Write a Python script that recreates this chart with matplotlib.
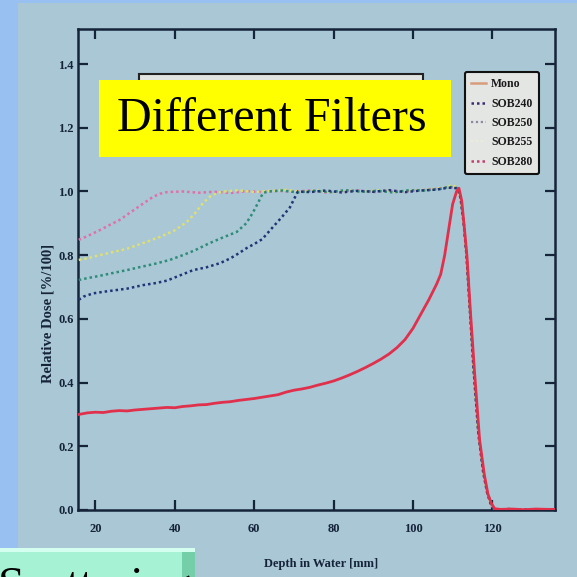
import matplotlib
matplotlib.use("Agg")
import matplotlib.pyplot as plt
from matplotlib.patches import Rectangle
from matplotlib.lines import Line2D

# ---------------- data ----------------
x_ticks = [20, 40, 60, 80, 100, 120]
y_ticks = [0.0, 0.2, 0.4, 0.6, 0.8, 1.0, 1.2, 1.4]
y_tick_labels = ["0.0", "0.2", "0.4", "0.6", "0.8", "1.0", "1.2", "1.4"]
legend_labels = ["Mono", "SOB240", "SOB250", "SOB255", "SOB280"]

depth_mono = [15.8, 18, 20, 22, 24, 26, 28, 30, 32, 34, 36, 38, 40, 42, 44, 46, 48,
              50, 52, 54, 56, 58, 60, 62, 64, 66, 68, 70, 72, 74, 76, 78, 80, 82,
              84, 86, 88, 90, 92, 94, 96, 98, 100, 102, 104, 106, 107, 108, 109,
              110, 111, 111.6, 112.3, 113, 113.6, 114.5, 115.6, 116.8, 118, 118.9,
              119.8, 120.6, 122, 125, 128, 131, 134, 135.7]
dose_mono = [0.300, 0.305, 0.307, 0.306, 0.310, 0.312, 0.311, 0.314, 0.316, 0.318,
             0.320, 0.322, 0.321, 0.325, 0.327, 0.330, 0.331, 0.335, 0.338, 0.340,
             0.344, 0.347, 0.350, 0.354, 0.358, 0.362, 0.370, 0.376, 0.380, 0.385,
             0.392, 0.398, 0.405, 0.414, 0.424, 0.435, 0.447, 0.460, 0.474, 0.490,
             0.510, 0.535, 0.570, 0.615, 0.660, 0.710, 0.740, 0.800, 0.880, 0.960,
             1.000, 1.010, 0.970, 0.880, 0.800, 0.620, 0.420, 0.220, 0.110, 0.050,
             0.020, 0.004, 0.002, 0.003, 0.001, 0.003, 0.002, 0.002]

# shared distal fall-off of the filtered beams
fall_depth = [111.3, 112, 112.8, 113.5, 114.3, 115.3, 116.5, 117.7, 118.7, 119.6,
              120.4, 121.5, 124, 127, 130, 133, 135.7]
fall_dose = [1.010, 0.980, 0.900, 0.800, 0.640, 0.440, 0.240, 0.120, 0.055, 0.020,
             0.004, 0.000, 0.003, 0.000, 0.002, 0.000, 0.002]

depth_240 = [15.8, 17, 19.4, 22, 25, 28, 32, 35, 38, 41, 44.6, 48, 51.4, 54, 56, 58.2,
             60, 62, 64.7, 67, 69, 70, 71, 74, 78, 82, 86, 90, 94, 98, 102, 106, 109]
dose_240 = [0.660, 0.670, 0.680, 0.685, 0.690, 0.695, 0.706, 0.712, 0.720, 0.735,
            0.753, 0.762, 0.775, 0.790, 0.805, 0.823, 0.835, 0.850, 0.888, 0.920,
            0.950, 0.975, 1.000, 0.998, 1.003, 0.997, 1.002, 0.999, 1.004, 0.998,
            1.003, 1.006, 1.012]

depth_250 = [15.8, 18, 21, 24, 27.9, 31, 35, 38.7, 42, 45, 48.8, 52, 55.6, 58, 59.6,
             61, 62.2, 63.5, 67, 71, 75, 79, 83, 87, 91, 95, 99, 103, 107, 109]
dose_250 = [0.722, 0.728, 0.735, 0.743, 0.753, 0.762, 0.773, 0.785, 0.800, 0.815,
            0.838, 0.855, 0.873, 0.900, 0.932, 0.965, 0.995, 1.000, 1.003, 0.997,
            1.002, 0.998, 1.004, 0.999, 1.002, 0.997, 1.004, 1.003, 1.008, 1.015]

depth_255 = [15.8, 18, 21, 24.5, 27.9, 32, 36.2, 40, 43, 45, 47.1, 49, 50.6, 52.5,
             56, 60, 64, 68, 72, 76, 80, 84, 88, 92, 96, 100, 104, 108, 110]
dose_255 = [0.785, 0.790, 0.800, 0.810, 0.820, 0.838, 0.857, 0.878, 0.904, 0.930,
            0.964, 0.985, 0.995, 1.000, 1.004, 0.998, 1.002, 1.005, 0.999, 1.003,
            0.998, 1.002, 1.000, 1.004, 0.999, 1.003, 1.006, 1.012, 1.020]

depth_280 = [15.8, 18, 21, 23.6, 26, 28.3, 30.4, 32.5, 34.5, 36.3, 38, 42, 46, 50,
             54, 58, 62, 66, 70, 74, 78, 82, 86, 90, 94, 98, 102, 106, 109]
dose_280 = [0.848, 0.860, 0.878, 0.895, 0.910, 0.930, 0.948, 0.966, 0.983, 0.993,
            0.998, 1.000, 0.996, 0.999, 0.995, 1.001, 0.998, 1.002, 0.999, 1.003,
            0.997, 1.001, 1.003, 0.998, 1.002, 1.000, 1.004, 1.008, 1.014]

# ---------------- figure ----------------
W = H = 577
slide_blue = "#98c1f2"
scan_bg = "#a9c7d5"
ink = "#16243a"

fig = plt.figure(figsize=(W / 100, H / 100), dpi=100, facecolor=slide_blue)


def fx(px):
    return px / W


def fy(py):
    return 1 - py / H


# scanned-picture area (behind the axes)
fig.patches.append(Rectangle((fx(18), 0), 1, fy(3), transform=fig.transFigure,
                             facecolor=scan_bg, edgecolor="none", zorder=-5))

ax = fig.add_axes([fx(78), fy(510), fx(555) - fx(78), fy(29) - fy(510)])
ax.set_zorder(1)
ax.set_facecolor(scan_bg)

c_mono = "#e0304c"
c_240 = "#1f3575"
c_250 = "#2f8c78"
c_255 = "#dfe070"
c_280 = "#e070a8"

dot = (0, (1, 1.2))
ax.plot(depth_280 + fall_depth, dose_280 + fall_dose, color=c_280, lw=1.8, ls=dot, zorder=3)
ax.plot(depth_255 + fall_depth, dose_255 + fall_dose, color=c_255, lw=1.8, ls=dot, zorder=3)
ax.plot(depth_250 + fall_depth, dose_250 + fall_dose, color=c_250, lw=1.8, ls=dot, zorder=3)
ax.plot(depth_240 + fall_depth, dose_240 + fall_dose, color=c_240, lw=1.8, ls=dot, zorder=4)
ax.plot(depth_mono, dose_mono, color=c_mono, lw=2.0, zorder=5)

ax.set_xlim(15.6, 135.8)
ax.set_ylim(0, 1.51)
ax.set_xticks(x_ticks)
ax.set_xticklabels([str(v) for v in x_ticks])
ax.set_yticks(y_ticks)
ax.set_yticklabels(y_tick_labels)

tick_font = dict(family="Liberation Serif", weight="bold", size=9, color=ink)
for lab in ax.get_xticklabels() + ax.get_yticklabels():
    lab.set_fontfamily("Liberation Serif")
    lab.set_fontweight("bold")
    lab.set_fontsize(9)
    lab.set_color(ink)

ax.tick_params(direction="in", length=7, width=1.6, color=ink,
               top=True, right=True, labeltop=False, labelright=False)
ax.tick_params(axis="x", pad=9)
ax.tick_params(axis="y", pad=3)
for s in ax.spines.values():
    s.set_color(ink)
    s.set_linewidth(1.8)

fig.text(fx(321), fy(564), "Depth in Water [mm]", ha="center", va="center",
         **tick_font)
fig.text(fx(48), fy(313), "Relative Dose [%/100]", ha="center", va="center",
         rotation=90, family="Liberation Serif", weight="bold", size=10.5, color=ink)

# legend
handles = [
    Line2D([], [], color="#d89c7c", lw=1.8),
    Line2D([], [], color="#3a2a70", lw=1.8, ls=dot),
    Line2D([], [], color="#8a8aa0", lw=1.6, ls=dot),
    Line2D([], [], color="#ececd8", lw=1.6, ls=dot),
    Line2D([], [], color="#c04070", lw=1.8, ls=dot),
]
leg = ax.legend(handles, legend_labels, loc="upper right",
                bbox_to_anchor=(fx(539), fy(72)), bbox_transform=fig.transFigure,
                borderaxespad=0, frameon=True, fancybox=True, handlelength=1.3,
                handletextpad=0.4, labelspacing=0.62, borderpad=0.55,
                prop=dict(family="Liberation Serif", weight="bold", size=8.5))
leg.get_frame().set_facecolor("#e4e6e4")
leg.get_frame().set_edgecolor("#111111")
leg.get_frame().set_linewidth(1.5)
leg.get_frame().set_alpha(1)
for t in leg.get_texts():
    t.set_color("#1a1a1a")

# whitish box partly hidden under the title box
fig.patches.append(Rectangle((fx(139), fy(155)), fx(423) - fx(139), fy(74) - fy(155),
                             transform=fig.transFigure, facecolor="#e2e4e2",
                             edgecolor="#222222", lw=1.5, zorder=6))
# yellow title box
fig.patches.append(Rectangle((fx(99), fy(157)), fx(451) - fx(99), fy(80) - fy(157),
                             transform=fig.transFigure, facecolor="#ffff00",
                             edgecolor="none", zorder=7))
fig.text(fx(272), fy(119), "Different Filters", ha="center", va="center",
         family="Liberation Serif", size=34.6, color="black", zorder=8)

# green box at bottom left (cut off)
fig.patches.append(Rectangle((0, 0), fx(195), fy(548), transform=fig.transFigure,
                             facecolor="#a6f2d4", edgecolor="none", zorder=6))
fig.patches.append(Rectangle((fx(182), 0), fx(13), fy(548), transform=fig.transFigure,
                             facecolor="#74cfa8", edgecolor="none", zorder=6))
fig.patches.append(Rectangle((0, fy(552)), fx(195), fy(548) - fy(552),
                             transform=fig.transFigure, facecolor="#d4fff0",
                             edgecolor="none", zorder=6))
fig.text(fx(-2), fy(600), "Scattering", ha="left", va="baseline",
         family="Liberation Serif", size=34.6, color="black", zorder=8)

fig.savefig("out.png", dpi=100, facecolor=fig.get_facecolor())
